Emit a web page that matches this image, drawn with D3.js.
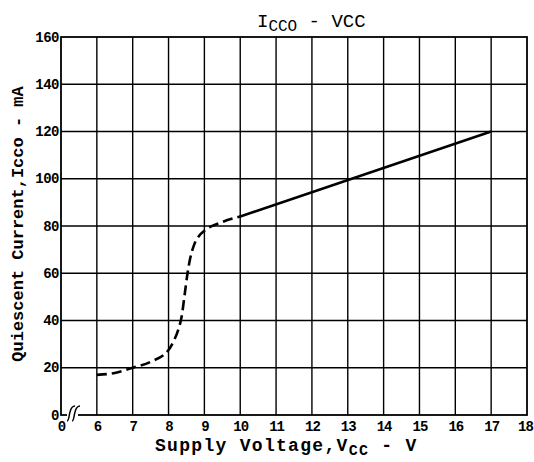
<!DOCTYPE html>
<html><head><meta charset="utf-8">
<script src="https://cdn.jsdelivr.net/npm/d3@7"></script>
<style>
body{margin:0;background:#fff;}
svg text{font-family:"Liberation Mono","DejaVu Sans Mono",monospace;fill:#000;}
</style></head>
<body><svg id="c" width="534" height="462"></svg>
<script>
const xTicks = [0,6,7,8,9,10,11,12,13,14,15,16,17,18];
const yTicks = [0,20,40,60,80,100,120,140,160];
const dashedX = [6,6.5,7,7.5,8,8.15,8.27,8.37,8.45,8.53,8.6,8.7,8.85,9,9.5,10];
const dashedY = [17,17.8,20,22.5,27.5,31.5,36,42,51,60,66,71.5,75.8,78,81.7,84];
const solidX = [10,17];
const solidY = [84,120];

const svg = d3.select("#c");
const L=61,R=527,T=37,B=415;
const x = d3.scaleLinear().domain([0,5,18]).range([L,L,R]);
const y = d3.scaleLinear().domain([0,160]).range([B,T]);

// grid
const g = svg.append("g");
g.selectAll(".vg").data(xTicks.filter(d=>d>0&&d<18)).join("line")
  .attr("x1",d=>x(d)).attr("x2",d=>x(d)).attr("y1",T).attr("y2",B)
  .attr("stroke","#000").attr("stroke-width",1.4);
g.selectAll(".hg").data(yTicks.filter(d=>d>0&&d<160)).join("line")
  .attr("y1",d=>y(d)).attr("y2",d=>y(d)).attr("x1",L).attr("x2",R)
  .attr("stroke","#000").attr("stroke-width",1.4);
g.append("rect").attr("x",L).attr("y",T).attr("width",R-L).attr("height",B-T)
  .attr("fill","none").attr("stroke","#000").attr("stroke-width",1.8);

// axes labels
const xa = svg.append("g").attr("transform",`translate(0,${B})`)
  .call(d3.axisBottom(x).tickValues(xTicks).tickSize(0).tickPadding(6).tickFormat(d3.format("d")));
xa.select(".domain").remove();
xa.selectAll("text").style("font-family","'Liberation Mono',monospace").style("font-size","14px").style("font-weight","bold").attr("fill","#000").attr("letter-spacing","-1");
xa.selectAll(".tick").filter(d=>d===18).select("text").attr("x",-2);
const ya = svg.append("g").attr("transform",`translate(${L},0)`)
  .call(d3.axisLeft(y).tickValues(yTicks).tickSize(0).tickPadding(2).tickFormat(d3.format("d")));
ya.select(".domain").remove();
ya.selectAll("text").style("font-family","'Liberation Mono',monospace").style("font-size","14px").style("font-weight","bold").attr("fill","#000").attr("dy","0.3em").attr("letter-spacing","-0.5");

// axis break marks
svg.append("rect").attr("x",67).attr("y",B-1.5).attr("width",11).attr("height",3).attr("fill","#fff");
const br = svg.append("g").attr("fill","none").attr("stroke","#000").attr("stroke-width",1.5);
[70,75].forEach(cx=>{
  br.append("path").attr("d",`M${cx-3},${B+6} C${cx-1},${B+6} ${cx-1},${B} ${cx},${B-3} C${cx+1},${B-7} ${cx+2},${B-9} ${cx+5},${B-9}`);
});

// curves
const line = d3.line().x(d=>x(d[0])).y(d=>y(d[1])).curve(d3.curveMonotoneX);
svg.append("path").datum(dashedX.map((v,i)=>[v,dashedY[i]]))
  .attr("d",line).attr("fill","none").attr("stroke","#000").attr("stroke-width",2.6)
  .attr("stroke-dasharray","10,5");
svg.append("path").datum(solidX.map((v,i)=>[v,solidY[i]]))
  .attr("d",d3.line().x(d=>x(d[0])).y(d=>y(d[1]))).attr("fill","none").attr("stroke","#000").attr("stroke-width",2.6);

// title
const t = svg.append("text").attr("x",257).attr("y",27).style("font-size","19px");
t.append("tspan").text("I");
t.append("tspan").attr("dy",4).style("font-size","16px").text("CCO");
t.append("tspan").attr("dy",-4).text(" - VCC");

// x title
const xt = svg.append("text").attr("x",155).attr("y",451).style("font-size","18px").style("font-weight","bold").attr("letter-spacing","1.3");
xt.append("tspan").text("Supply Voltage,V");
xt.append("tspan").attr("dy",4).style("font-size","15px").text("CC");
xt.append("tspan").attr("dy",-4).text(" - V");

// y title
svg.append("text").attr("transform","translate(23,224) rotate(-90)").attr("text-anchor","middle")
  .style("font-size","17px").style("font-weight","bold").text("Quiescent Current,Icco - mA");
</script></body></html>
